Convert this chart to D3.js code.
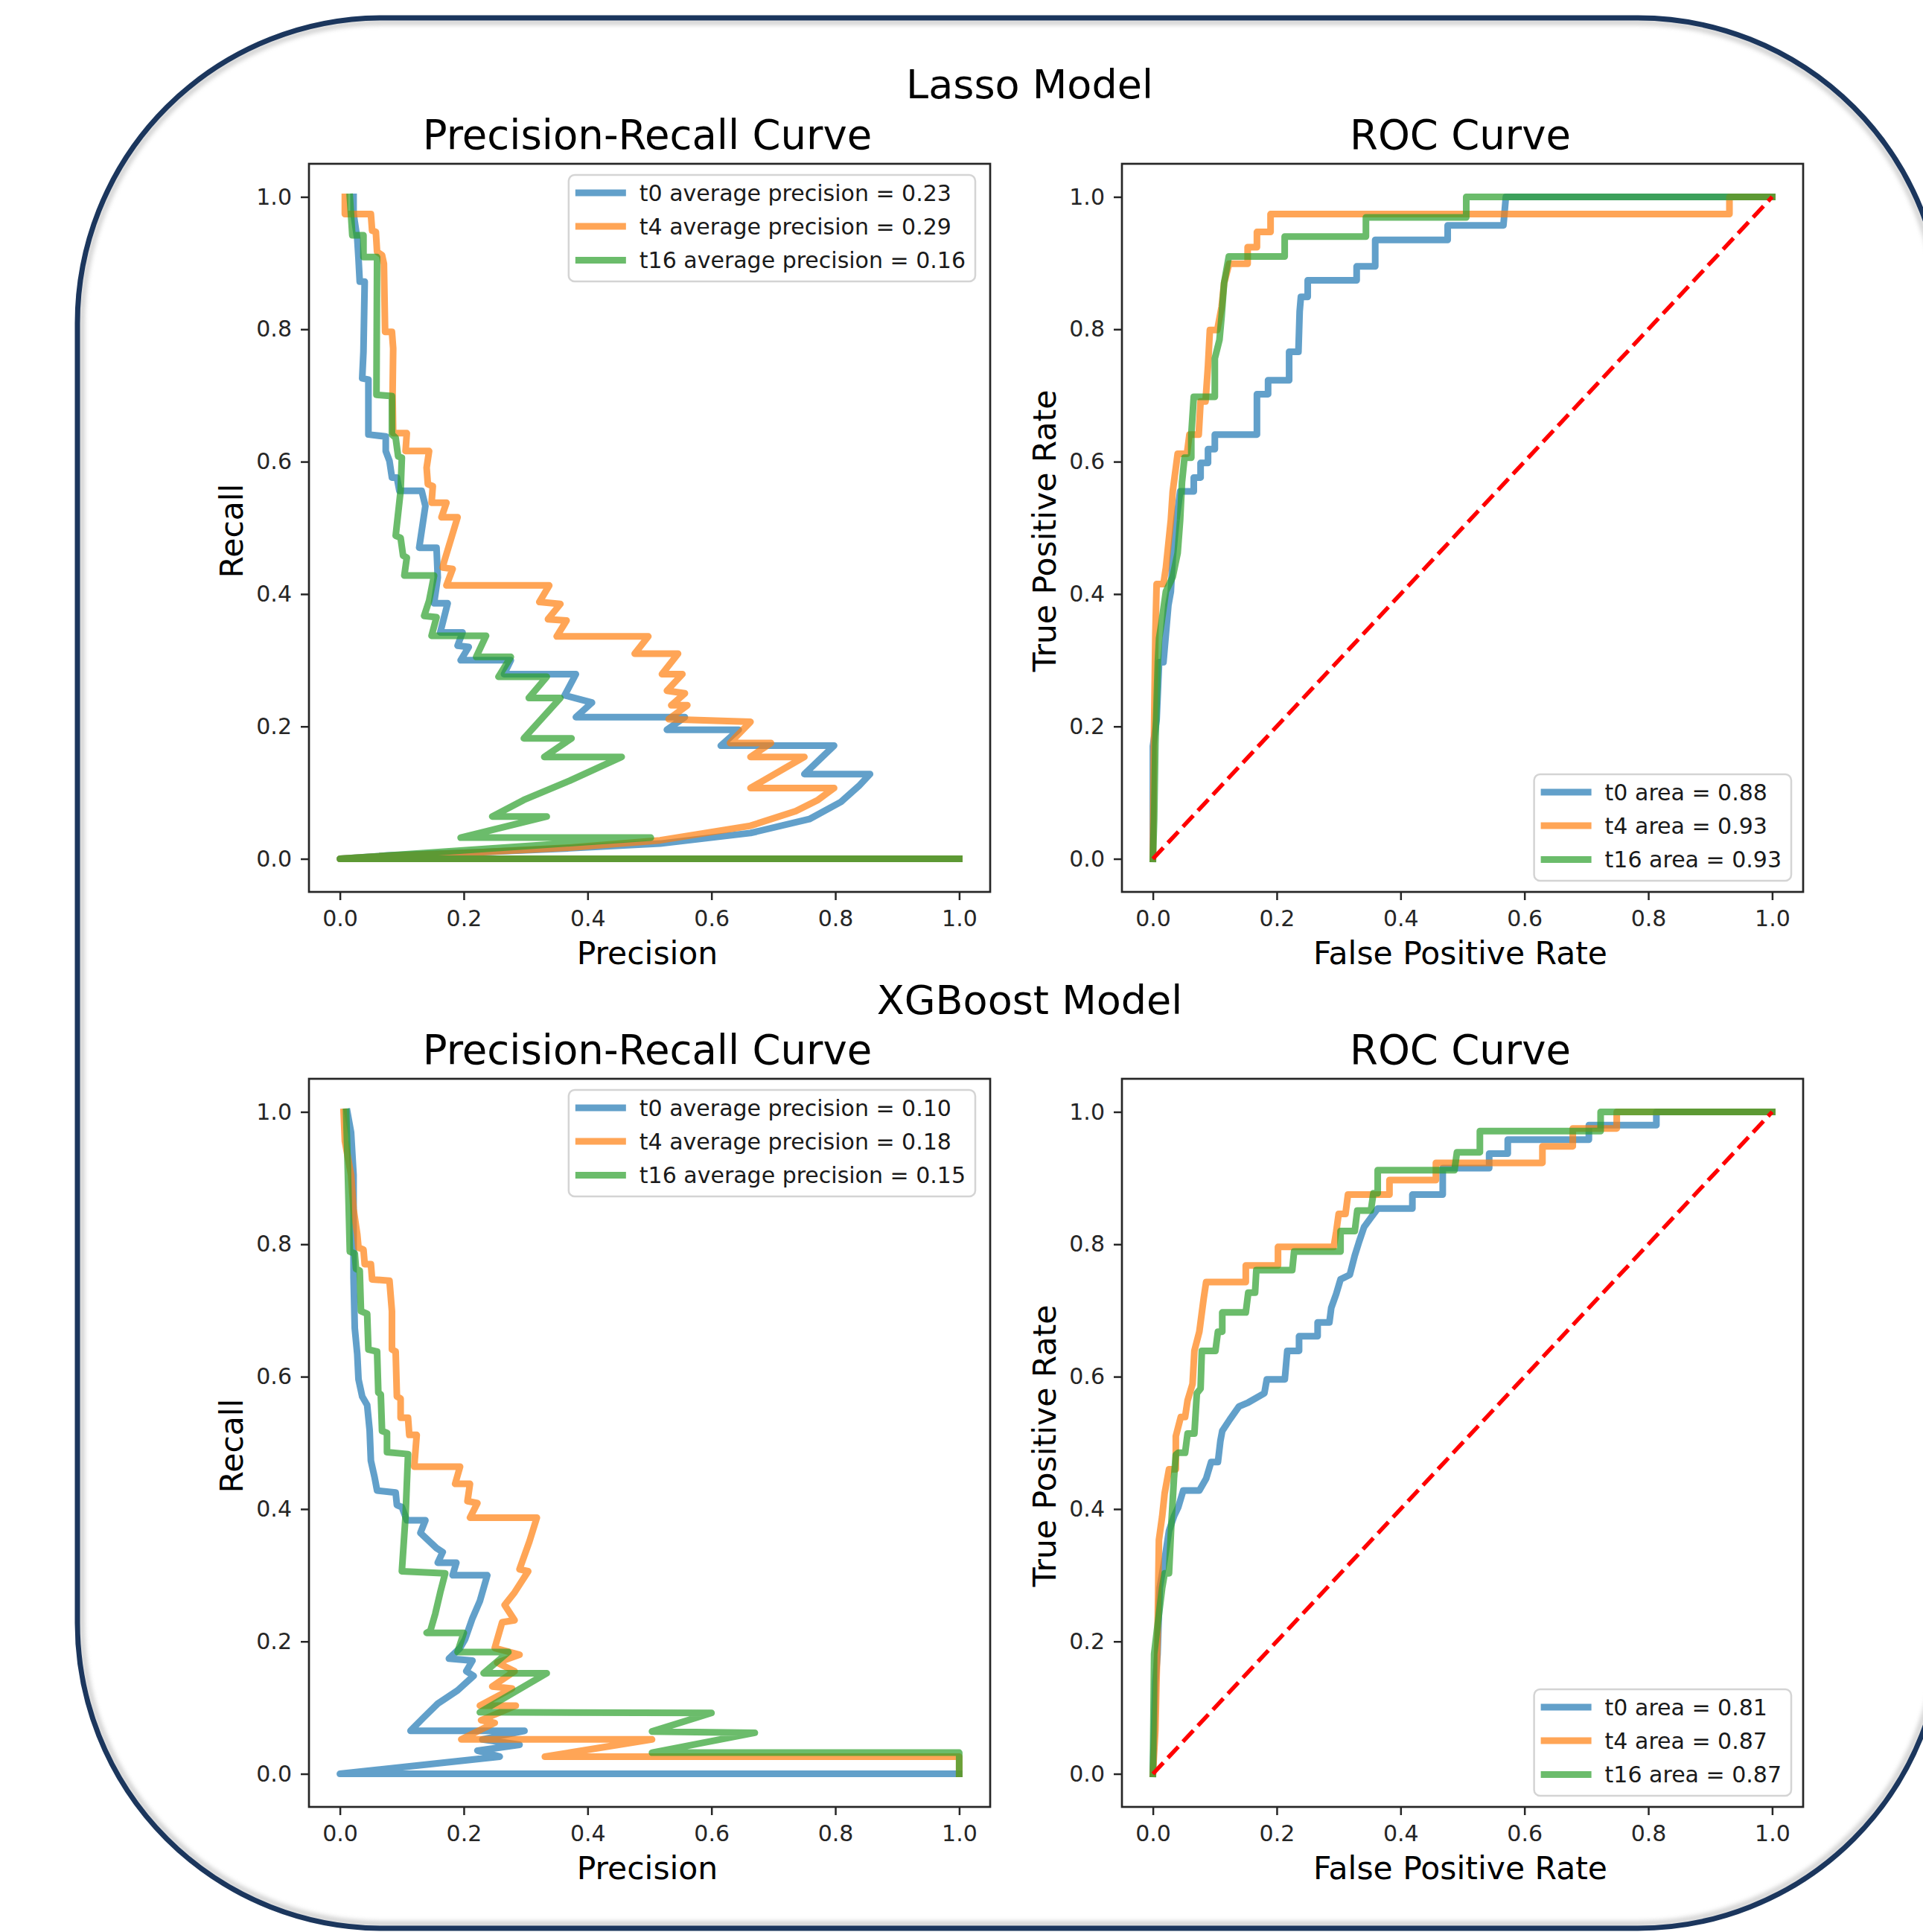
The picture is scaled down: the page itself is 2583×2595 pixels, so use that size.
<!DOCTYPE html>
<html><head><meta charset="utf-8">
<script src="https://cdn.jsdelivr.net/npm/d3@7"></script>
<style>body{margin:0;background:#fff}text{font-family:"DejaVu Sans",sans-serif}</style>
</head><body>
<svg id="chart" width="2583" height="2595" xmlns="http://www.w3.org/2000/svg"></svg>
<script>
// ---------- DATA ----------
const tickValues = [0, 0.2, 0.4, 0.6, 0.8, 1.0];
const seriesNames = ["t0", "t4", "t16"];
const seriesColors = ["#1f77b4", "#ff7f0e", "#2ca02c"];
const modelTitles = ["Lasso Model", "XGBoost Model"];
const panelTitles = ["Precision-Recall Curve", "ROC Curve"];
const prAxisLabels = ["Precision", "Recall"];
const rocAxisLabels = ["False Positive Rate", "True Positive Rate"];

const prLassoLabels = ["t0 average precision = 0.23", "t4 average precision = 0.29", "t16 average precision = 0.16"];
const rocLassoLabels = ["t0 area = 0.88", "t4 area = 0.93", "t16 area = 0.93"];
const prXgbLabels = ["t0 average precision = 0.10", "t4 average precision = 0.18", "t16 average precision = 0.15"];
const rocXgbLabels = ["t0 area = 0.81", "t4 area = 0.87", "t16 area = 0.87"];

// [precision, recall]
const prLassoT0 = [[0.022,1.0],[0.022,0.975],[0.024,0.962],[0.028,0.937],[0.030,0.907],[0.032,0.872],[0.040,0.872],[0.038,0.766],[0.036,0.726],[0.046,0.724],[0.046,0.641],[0.074,0.638],[0.074,0.616],[0.080,0.601],[0.084,0.576],[0.092,0.576],[0.096,0.556],[0.132,0.556],[0.138,0.533],[0.128,0.470],[0.156,0.470],[0.158,0.425],[0.152,0.386],[0.174,0.386],[0.162,0.342],[0.198,0.342],[0.190,0.322],[0.208,0.320],[0.195,0.300],[0.276,0.300],[0.265,0.279],[0.381,0.279],[0.363,0.247],[0.407,0.236],[0.381,0.214],[0.557,0.214],[0.528,0.195],[0.644,0.195],[0.615,0.171],[0.798,0.171],[0.750,0.128],[0.856,0.128],[0.838,0.110],[0.809,0.086],[0.758,0.060],[0.663,0.039],[0.517,0.023],[0.371,0.016],[0.225,0.010],[0.078,0.005],[0,0],[1,0]];
const prLassoT4 = [[0.008,1.0],[0.008,0.974],[0.050,0.974],[0.052,0.949],[0.058,0.947],[0.060,0.917],[0.068,0.912],[0.071,0.899],[0.073,0.796],[0.084,0.796],[0.086,0.771],[0.085,0.701],[0.086,0.643],[0.108,0.643],[0.106,0.616],[0.144,0.616],[0.140,0.591],[0.142,0.566],[0.150,0.563],[0.148,0.538],[0.172,0.538],[0.164,0.516],[0.190,0.516],[0.168,0.448],[0.166,0.440],[0.182,0.438],[0.172,0.413],[0.338,0.413],[0.322,0.388],[0.356,0.385],[0.336,0.362],[0.366,0.360],[0.350,0.336],[0.498,0.336],[0.476,0.310],[0.546,0.310],[0.520,0.279],[0.553,0.279],[0.528,0.254],[0.557,0.250],[0.535,0.232],[0.561,0.232],[0.531,0.211],[0.663,0.207],[0.630,0.175],[0.696,0.175],[0.663,0.154],[0.750,0.154],[0.663,0.107],[0.798,0.107],[0.772,0.089],[0.736,0.072],[0.663,0.050],[0.517,0.028],[0.371,0.017],[0.225,0.010],[0.078,0.0045],[0,0],[1,0]];
const prLassoT16 = [[0.016,1.0],[0.018,0.972],[0.020,0.942],[0.038,0.942],[0.038,0.909],[0.060,0.909],[0.059,0.701],[0.084,0.699],[0.084,0.641],[0.090,0.636],[0.094,0.608],[0.100,0.606],[0.098,0.556],[0.090,0.488],[0.098,0.485],[0.102,0.458],[0.108,0.455],[0.104,0.428],[0.152,0.428],[0.144,0.390],[0.136,0.367],[0.156,0.365],[0.148,0.337],[0.236,0.337],[0.220,0.305],[0.276,0.305],[0.256,0.275],[0.334,0.275],[0.305,0.243],[0.356,0.243],[0.297,0.182],[0.374,0.182],[0.330,0.154],[0.455,0.154],[0.371,0.118],[0.297,0.089],[0.246,0.064],[0.334,0.064],[0.195,0.032],[0.502,0.032],[0,0],[1,0]];

// [fpr, tpr]
const rocLassoT0 = [[0,0],[0,0.17],[0.006,0.21],[0.010,0.297],[0.017,0.297],[0.021,0.340],[0.025,0.383],[0.029,0.404],[0.032,0.454],[0.038,0.512],[0.044,0.555],[0.066,0.555],[0.066,0.576],[0.077,0.576],[0.077,0.598],[0.089,0.598],[0.089,0.619],[0.100,0.619],[0.100,0.641],[0.168,0.641],[0.168,0.702],[0.186,0.702],[0.186,0.723],[0.220,0.723],[0.220,0.766],[0.235,0.766],[0.237,0.827],[0.239,0.849],[0.250,0.849],[0.250,0.874],[0.329,0.874],[0.329,0.895],[0.359,0.895],[0.359,0.935],[0.476,0.935],[0.476,0.957],[0.566,0.957],[0.570,1.0],[1,1]];
const rocLassoT4 = [[0,0],[0.002,0.2],[0.004,0.34],[0.006,0.415],[0.017,0.415],[0.021,0.44],[0.029,0.512],[0.032,0.555],[0.040,0.612],[0.055,0.612],[0.059,0.641],[0.074,0.641],[0.077,0.691],[0.085,0.691],[0.089,0.745],[0.092,0.799],[0.104,0.799],[0.111,0.834],[0.115,0.870],[0.123,0.899],[0.153,0.899],[0.153,0.924],[0.168,0.924],[0.168,0.947],[0.190,0.947],[0.190,0.974],[0.931,0.974],[0.931,1.0],[1,1]];
const rocLassoT16 = [[0,0],[0.002,0.06],[0.004,0.175],[0.008,0.297],[0.010,0.333],[0.0135,0.354],[0.021,0.404],[0.032,0.426],[0.040,0.462],[0.044,0.512],[0.047,0.569],[0.051,0.606],[0.062,0.606],[0.062,0.641],[0.066,0.698],[0.100,0.698],[0.100,0.756],[0.1075,0.784],[0.111,0.820],[0.115,0.870],[0.1226,0.910],[0.2128,0.910],[0.2128,0.940],[0.344,0.940],[0.344,0.969],[0.506,0.969],[0.506,1.0],[1,1]];

const prXgbT0 = [[0.012,1.0],[0.018,0.969],[0.022,0.905],[0.022,0.750],[0.024,0.673],[0.028,0.634],[0.030,0.596],[0.036,0.570],[0.044,0.557],[0.048,0.519],[0.050,0.473],[0.056,0.448],[0.060,0.428],[0.090,0.425],[0.092,0.406],[0.100,0.403],[0.108,0.383],[0.138,0.383],[0.130,0.364],[0.156,0.341],[0.166,0.335],[0.158,0.319],[0.188,0.319],[0.182,0.300],[0.238,0.300],[0.226,0.261],[0.214,0.235],[0.202,0.203],[0.194,0.190],[0.176,0.174],[0.214,0.171],[0.204,0.155],[0.216,0.148],[0.190,0.126],[0.158,0.106],[0.134,0.084],[0.114,0.065],[0.298,0.065],[0.230,0.052],[0.290,0.044],[0.222,0.035],[0.258,0.026],[0.160,0.016],[0,0],[1,0]];
const prXgbT4 = [[0.006,1.0],[0.008,0.956],[0.018,0.905],[0.022,0.853],[0.028,0.815],[0.030,0.795],[0.038,0.792],[0.040,0.770],[0.050,0.770],[0.052,0.747],[0.080,0.745],[0.084,0.699],[0.084,0.641],[0.090,0.638],[0.092,0.570],[0.098,0.567],[0.098,0.538],[0.110,0.538],[0.112,0.512],[0.124,0.512],[0.120,0.464],[0.194,0.464],[0.186,0.438],[0.210,0.438],[0.206,0.412],[0.222,0.409],[0.210,0.387],[0.318,0.387],[0.306,0.351],[0.290,0.309],[0.304,0.306],[0.282,0.274],[0.266,0.255],[0.282,0.232],[0.262,0.229],[0.250,0.190],[0.290,0.180],[0.254,0.168],[0.282,0.155],[0.246,0.132],[0.278,0.129],[0.226,0.103],[0.284,0.103],[0.228,0.081],[0.250,0.077],[0.196,0.052],[0.504,0.052],[0.331,0.026],[1.0,0.026],[1.0,0]];
const prXgbT16 = [[0.010,1.0],[0.012,0.937],[0.016,0.789],[0.024,0.786],[0.026,0.763],[0.032,0.760],[0.034,0.699],[0.044,0.695],[0.046,0.641],[0.060,0.638],[0.062,0.576],[0.066,0.573],[0.068,0.518],[0.076,0.515],[0.076,0.486],[0.110,0.483],[0.106,0.390],[0.100,0.306],[0.170,0.303],[0.162,0.274],[0.154,0.242],[0.146,0.216],[0.140,0.213],[0.200,0.213],[0.190,0.184],[0.272,0.184],[0.232,0.152],[0.334,0.152],[0.226,0.093],[0.600,0.092],[0.504,0.064],[0.670,0.062],[0.504,0.032],[1.0,0.032],[1.0,0]];

const rocXgbT0 = [[0,0],[0.004,0.138],[0.0075,0.181],[0.011,0.281],[0.019,0.324],[0.026,0.367],[0.034,0.389],[0.041,0.403],[0.049,0.428],[0.075,0.428],[0.086,0.446],[0.094,0.471],[0.105,0.471],[0.109,0.503],[0.112,0.518],[0.124,0.535],[0.139,0.555],[0.154,0.561],[0.180,0.575],[0.184,0.596],[0.213,0.596],[0.217,0.639],[0.236,0.639],[0.236,0.661],[0.266,0.661],[0.266,0.682],[0.285,0.682],[0.288,0.704],[0.296,0.725],[0.303,0.747],[0.318,0.754],[0.326,0.783],[0.333,0.804],[0.341,0.826],[0.352,0.840],[0.363,0.854],[0.419,0.854],[0.419,0.875],[0.468,0.875],[0.468,0.915],[0.543,0.915],[0.543,0.937],[0.573,0.937],[0.573,0.958],[0.704,0.958],[0.704,0.980],[0.813,0.980],[0.813,1.0],[1,1]];
const rocXgbT4 = [[0,0],[0.004,0.066],[0.0075,0.209],[0.0097,0.353],[0.015,0.389],[0.019,0.424],[0.026,0.460],[0.037,0.460],[0.037,0.510],[0.045,0.539],[0.052,0.539],[0.056,0.564],[0.064,0.589],[0.067,0.639],[0.075,0.668],[0.082,0.718],[0.086,0.743],[0.150,0.743],[0.150,0.768],[0.202,0.768],[0.202,0.796],[0.292,0.796],[0.296,0.819],[0.300,0.846],[0.311,0.846],[0.315,0.875],[0.382,0.875],[0.382,0.897],[0.457,0.897],[0.457,0.923],[0.629,0.923],[0.629,0.948],[0.678,0.948],[0.678,0.975],[0.749,0.975],[0.749,1.0],[1,1]];
const rocXgbT16 = [[0,0],[0.002,0.181],[0.0075,0.224],[0.015,0.281],[0.019,0.303],[0.026,0.303],[0.030,0.381],[0.034,0.446],[0.037,0.482],[0.041,0.485],[0.052,0.485],[0.056,0.514],[0.067,0.514],[0.071,0.575],[0.077,0.582],[0.079,0.639],[0.101,0.639],[0.105,0.668],[0.112,0.668],[0.112,0.697],[0.150,0.697],[0.154,0.727],[0.165,0.727],[0.167,0.761],[0.225,0.761],[0.228,0.789],[0.303,0.789],[0.303,0.820],[0.326,0.820],[0.330,0.851],[0.352,0.851],[0.356,0.877],[0.363,0.877],[0.363,0.912],[0.487,0.912],[0.491,0.939],[0.528,0.939],[0.528,0.971],[0.723,0.971],[0.723,1.0],[1,1]];

const chanceLine = [[0,0],[1,1]];

// ---------- DRAWING ----------
const svg = d3.select("#chart");
svg.append("rect").attr("width", 2583).attr("height", 2595).attr("fill", "#fff");

// rounded poster border with soft inner shadow
const defs = svg.append("defs");
defs.append("filter").attr("id", "blur").attr("x", "-5%").attr("y", "-5%").attr("width", "110%").attr("height", "110%")
  .append("feGaussianBlur").attr("stdDeviation", 3);
svg.append("rect").attr("x", 110).attr("y", 30).attr("width", 2494).attr("height", 2554).attr("rx", 404)
  .attr("fill", "none").attr("stroke", "#9a9a9a").attr("stroke-width", 6).attr("opacity", 0.55).attr("filter", "url(#blur)");
svg.append("rect").attr("x", 104).attr("y", 24).attr("width", 2506).attr("height", 2566).attr("rx", 410)
  .attr("fill", "none").attr("stroke", "#1b365d").attr("stroke-width", 7);

const dom = [-0.05, 1.05];
const fmt = d3.format(".1f");
const LW = 9, ALPHA = 0.7;

function panel(cfg) {
  const {left, top, w, h, series, labels, legendPos, xlabel, ylabel, title, diag} = cfg;
  const x = d3.scaleLinear().domain(dom).range([left, left + w]);
  const y = d3.scaleLinear().domain(dom).range([top + h, top]);
  const g = svg.append("g");
  const line = d3.line().x(d => x(d[0])).y(d => y(d[1]));

  series.forEach((s, i) => {
    g.append("path").attr("d", line(s)).attr("fill", "none")
      .attr("stroke", seriesColors[i]).attr("stroke-width", LW).attr("stroke-opacity", ALPHA)
      .attr("stroke-linejoin", "round").attr("stroke-linecap", "square");
  });
  if (diag) {
    g.append("path").attr("d", line(chanceLine)).attr("fill", "none")
      .attr("stroke", "#ff0000").attr("stroke-width", 5.5).attr("stroke-dasharray", "20.5,9");
  }

  // axes
  const xa = g.append("g").attr("transform", `translate(0,${top + h})`)
    .call(d3.axisBottom(x).tickValues(tickValues).tickFormat(fmt).tickSize(11).tickPadding(14));
  const ya = g.append("g").attr("transform", `translate(${left},0)`)
    .call(d3.axisLeft(y).tickValues(tickValues).tickFormat(fmt).tickSize(11).tickPadding(12));
  [xa, ya].forEach(a => {
    a.select(".domain").remove();
    a.selectAll(".tick line").attr("stroke", "#262626").attr("stroke-width", 2.5);
    a.selectAll(".tick text").attr("fill", "#262626").style("font-size", "30px")
      .style("font-family", '"DejaVu Sans", sans-serif');
  });

  // frame
  g.append("rect").attr("x", left).attr("y", top).attr("width", w).attr("height", h)
    .attr("fill", "none").attr("stroke", "#262626").attr("stroke-width", 2.7);

  // title + labels
  g.append("text").attr("x", left + w / 2 - 3).attr("y", top - 20).attr("text-anchor", "middle")
    .style("font-size", "54.5px").attr("fill", "#000").text(title);
  g.append("text").attr("x", left + w / 2 - 3).attr("y", top + h + 97).attr("text-anchor", "middle")
    .style("font-size", "42.5px").attr("fill", "#000").text(xlabel);
  g.append("text").attr("transform", `translate(${left - 89},${top + h / 2 + 4}) rotate(-90)`)
    .attr("text-anchor", "middle").style("font-size", "42.5px").attr("fill", "#000").text(ylabel);

  // legend
  const lg = g.append("g");
  const textX = 95, rowY = [24, 69, 114.5], fs = 30;
  const texts = labels.map((t, i) => lg.append("text").attr("x", textX).attr("y", rowY[i] + 10.5)
    .style("font-size", fs + "px").attr("fill", "#1a1a1a").text(t));
  const maxW = d3.max(texts, t => t.node().getComputedTextLength());
  const bw = textX + maxW + 13, bh = 143;
  lg.insert("rect", ":first-child").attr("x", 0).attr("y", 0).attr("width", bw).attr("height", bh)
    .attr("rx", 8).attr("fill", "#fff").attr("fill-opacity", 0.8).attr("stroke", "#d4d4d4").attr("stroke-width", 2.5);
  labels.forEach((t, i) => {
    lg.append("line").attr("x1", 9).attr("x2", 77).attr("y1", rowY[i]).attr("y2", rowY[i])
      .attr("stroke", seriesColors[i]).attr("stroke-width", LW).attr("stroke-opacity", ALPHA);
  });
  const lx = legendPos === "upper right" ? left + w - 20 - bw : left + w - 16 - bw;
  const ly = legendPos === "upper right" ? top + 15 : top + h - 15 - bh;
  lg.attr("transform", `translate(${lx},${ly})`);
}

const colL = 415, colR = 1507, rowT = 220, rowB = 1449, W = 915, H = 978;

svg.append("text").attr("x", 1383).attr("y", 132).attr("text-anchor", "middle")
  .style("font-size", "54px").attr("fill", "#000").text(modelTitles[0]);
svg.append("text").attr("x", 1383).attr("y", 1362).attr("text-anchor", "middle")
  .style("font-size", "54px").attr("fill", "#000").text(modelTitles[1]);

panel({left: colL, top: rowT, w: W, h: H, series: [prLassoT0, prLassoT4, prLassoT16], labels: prLassoLabels,
  legendPos: "upper right", xlabel: prAxisLabels[0], ylabel: prAxisLabels[1], title: panelTitles[0], diag: false});
panel({left: colR, top: rowT, w: W, h: H, series: [rocLassoT0, rocLassoT4, rocLassoT16], labels: rocLassoLabels,
  legendPos: "lower right", xlabel: rocAxisLabels[0], ylabel: rocAxisLabels[1], title: panelTitles[1], diag: true});
panel({left: colL, top: rowB, w: W, h: H, series: [prXgbT0, prXgbT4, prXgbT16], labels: prXgbLabels,
  legendPos: "upper right", xlabel: prAxisLabels[0], ylabel: prAxisLabels[1], title: panelTitles[0], diag: false});
panel({left: colR, top: rowB, w: W, h: H, series: [rocXgbT0, rocXgbT4, rocXgbT16], labels: rocXgbLabels,
  legendPos: "lower right", xlabel: rocAxisLabels[0], ylabel: rocAxisLabels[1], title: panelTitles[1], diag: true});
</script>
</body></html>
